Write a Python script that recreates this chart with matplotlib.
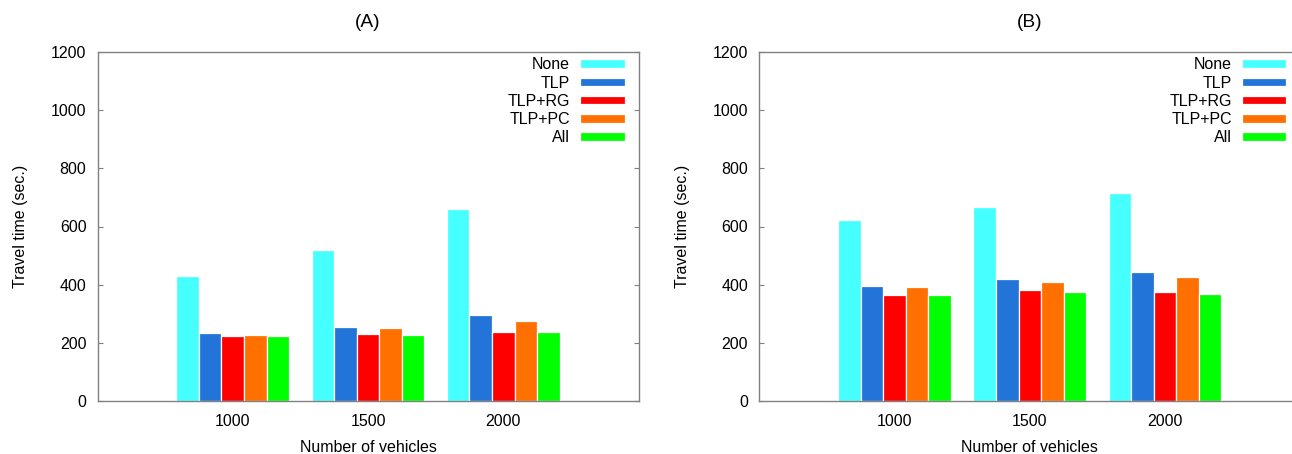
import numpy as np
import matplotlib
matplotlib.use("Agg")
import matplotlib.pyplot as plt

plt.rcParams['font.family'] = ['Liberation Sans', 'DejaVu Sans']
plt.rcParams['font.size'] = 11.5

# number of vehicles on the x axis
vehicles = ['1000', '1500', '2000']
methods = ['None', 'TLP', 'TLP+RG', 'TLP+PC', 'All']
colors = ['#46ffff', '#2274d9', '#ff0000', '#ff7000', '#00ff00']

# travel time (sec.) per method, one value per vehicle count
travel_a = {
    'None':   [429, 518, 661],
    'TLP':    [233, 256, 296],
    'TLP+RG': [223, 229, 238],
    'TLP+PC': [228, 251, 274],
    'All':    [222, 228, 236],
}

travel_b = {
    'None':   [623, 668, 716],
    'TLP':    [395, 420, 443],
    'TLP+RG': [364, 383, 375],
    'TLP+PC': [392, 409, 428],
    'All':    [363, 375, 369],
}


def draw_panel(ax, data, title):
    x = np.arange(1, len(vehicles) + 1)
    w = 1.0 / 6
    for j, (m, c) in enumerate(zip(methods, colors)):
        ax.bar(x + (j - 2) * w, data[m], width=w, color=c,
               edgecolor='white', linewidth=0.9, label=m)

    ax.set_xlim(0, 4)
    ax.set_ylim(0, 1200)
    ax.set_xticks(x)
    ax.set_xticklabels(vehicles)
    ax.set_yticks(np.arange(0, 1201, 200))
    ax.tick_params(axis='y', direction='in', length=3.3, width=0.8,
                   color='#808080', right=True, pad=8)
    ax.tick_params(axis='x', length=0, pad=9)
    for s in ax.spines.values():
        s.set_color('#808080')
        s.set_linewidth(1.0)

    ax.set_title(title, pad=18)
    ax.set_xlabel('Number of vehicles', labelpad=8)
    ax.set_ylabel('Travel time (sec.)', labelpad=16.5)

    ax.legend(loc='upper right', frameon=False, markerfirst=False,
              handlelength=2.8, handleheight=0.45, handletextpad=0.6,
              labelspacing=0.2, borderaxespad=0.0,
              bbox_to_anchor=(0.986, 1.003))


fig = plt.figure(figsize=(12.92, 4.54), dpi=100)
ax_a = fig.add_axes([97.5 / 1292, 1 - 401 / 454, 541 / 1292, 349 / 454])
ax_b = fig.add_axes([759.3 / 1292, 1 - 401 / 454, 541 / 1292, 349 / 454])

draw_panel(ax_a, travel_a, '(A)')
draw_panel(ax_b, travel_b, '(B)')

fig.savefig('out.png', dpi=100)
